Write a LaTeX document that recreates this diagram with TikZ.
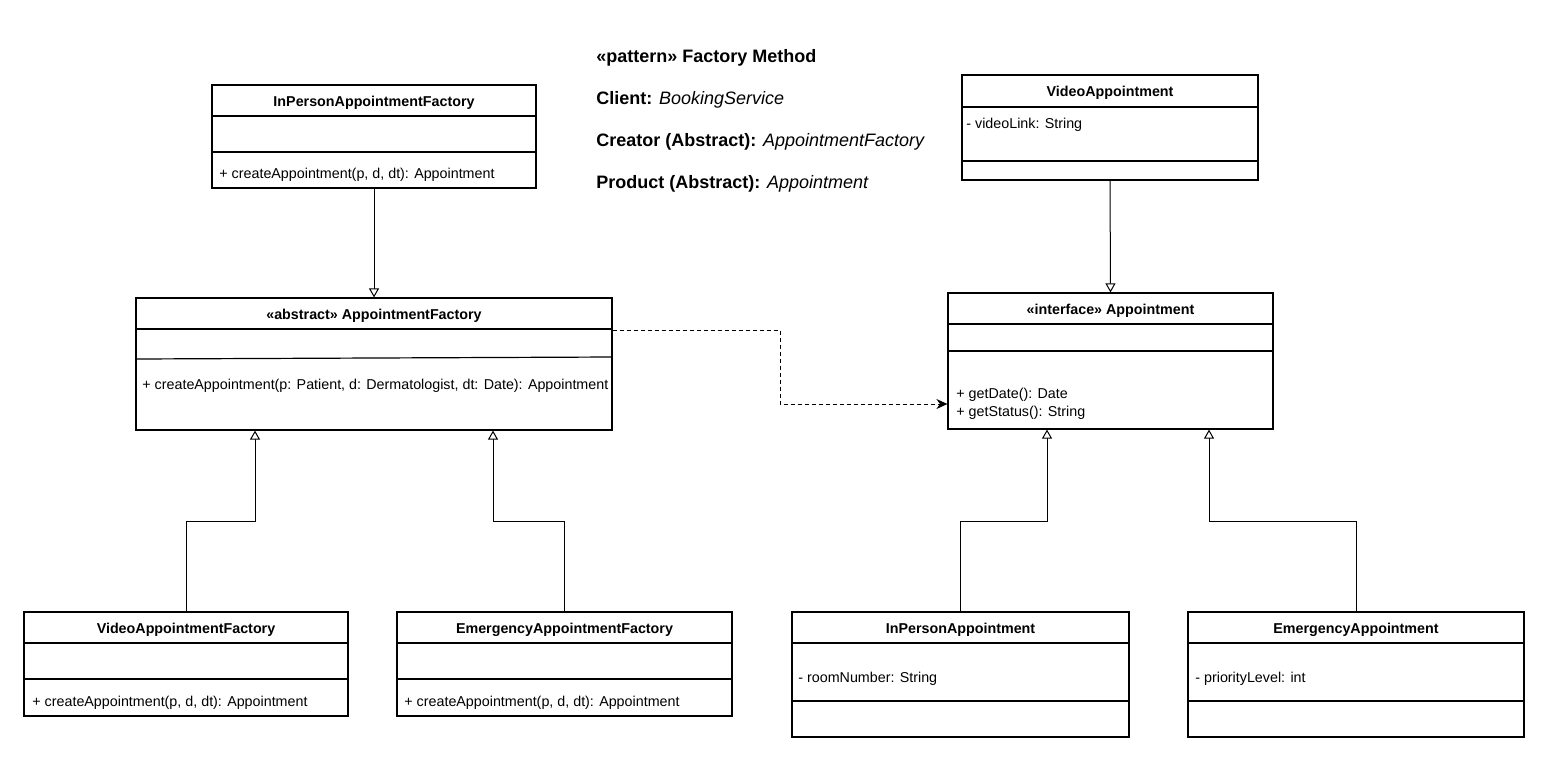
\documentclass[tikz,border=0pt]{standalone}
\usepackage{fontspec}
\setmainfont{Liberation Sans}
\usetikzlibrary{arrows.meta,fit}
\begin{document}
\begin{tikzpicture}[x=0.5pt,y=-0.5pt,
  box/.style={draw=black,line width=0.6pt,inner sep=0pt,fill=white},
  sepline/.style={draw=black,line width=0.6pt},
  hdr/.style={font=\fontsize{7.15}{8.6}\selectfont\bfseries,inner sep=0pt,yshift=-1pt},
  txt/.style={font=\fontsize{7.15}{8.6}\selectfont,inner sep=0pt,anchor=west,xshift=1.5pt,yshift=-1pt},
  title/.style={font=\fontsize{9}{10.8}\selectfont,inner sep=0pt,anchor=west,yshift=-1pt},
  gen/.style={draw=black,line width=0.5pt,-{Triangle[open,length=4.5pt,width=5pt,fill=white]}},
  dep/.style={draw=black,line width=0.5pt,dash pattern=on 2pt off 1.5pt,-{Stealth[length=5.5pt,width=5pt]}}]
\useasboundingbox[fill=white] (0,0) rectangle (1550,766);

% title text
\node[title] (t1) at (596,56) {\bfseries «pattern» Factory Method};
\node[title] (t2) at (596,98) {\bfseries Client: \mdseries\itshape BookingService};
\node[title] (t3) at (596,140) {\bfseries Creator (Abstract): \mdseries\itshape AppointmentFactory};
\node[title] (t4) at (596,182) {\bfseries Product (Abstract): \mdseries\itshape Appointment};

% InPersonAppointmentFactory
\node[box,fit={(212,85) (536,188)}] (ipf) {};
\draw[sepline] (212,116) -- (536,116);
\draw[sepline] (212,152) -- (536,152);
\node[hdr] (ipfh) at (374,100.5) {InPersonAppointmentFactory};
\node[txt] (ipfm) at (216,173) {+ createAppointment(p, d, dt): Appointment};

% AppointmentFactory
\node[box,fit={(136,298) (612,430)}] (af) {};
\draw[sepline] (136,329) -- (612,329);
\draw[sepline] (136,359) -- (612,357);
\node[hdr] (afh) at (374,314) {«abstract» AppointmentFactory};
\node[txt] (afm) at (139,384) {+ createAppointment(p: Patient, d: Dermatologist, dt: Date): Appointment};

% VideoAppointmentFactory
\node[box,fit={(24,612) (348,716)}] (vaf) {};
\draw[sepline] (24,643) -- (348,643);
\draw[sepline] (24,679) -- (348,679);
\node[hdr] (vafh) at (186,628) {VideoAppointmentFactory};
\node[txt] (vafm) at (29,701) {+ createAppointment(p, d, dt): Appointment};

% EmergencyAppointmentFactory
\node[box,fit={(397,612) (732,716)}] (eaf) {};
\draw[sepline] (397,643) -- (732,643);
\draw[sepline] (397,679) -- (732,679);
\node[hdr] (eafh) at (564.5,628) {EmergencyAppointmentFactory};
\node[txt] (eafm) at (401,701) {+ createAppointment(p, d, dt): Appointment};

% VideoAppointment
\node[box,fit={(962,75) (1258,180)}] (va) {};
\draw[sepline] (962,107) -- (1258,107);
\draw[sepline] (962,161) -- (1258,161);
\node[hdr] (vah) at (1110,91) {VideoAppointment};
\node[txt] (vaa) at (963,123) {- videoLink: String};

% Appointment interface
\node[box,fit={(948,293) (1273,429)}] (ia) {};
\draw[sepline] (948,324) -- (1273,324);
\draw[sepline] (948,351) -- (1273,351);
\node[hdr] (iah) at (1110.5,309) {«interface» Appointment};
\node[txt] (iam1) at (953,393) {+ getDate(): Date};
\node[txt] (iam2) at (953,410.5) {+ getStatus(): String};

% InPersonAppointment
\node[box,fit={(792,612) (1129,737)}] (ipa) {};
\draw[sepline] (792,643) -- (1129,643);
\draw[sepline] (792,701) -- (1129,701);
\node[hdr] (ipah) at (960.5,628) {InPersonAppointment};
\node[txt] (ipaa) at (795,677) {- roomNumber: String};

% EmergencyAppointment
\node[box,fit={(1188,612) (1524,737)}] (ea) {};
\draw[sepline] (1188,643) -- (1524,643);
\draw[sepline] (1188,701) -- (1524,701);
\node[hdr] (eah) at (1356,628) {EmergencyAppointment};
\node[txt] (eaa) at (1192,677) {- priorityLevel: int};

% bend points
\coordinate (j1) at (255,521);
\coordinate (j2) at (493,521);
\coordinate (j3) at (1047,521);
\coordinate (j4) at (1209,521);
\coordinate (d1) at (780,330);
\coordinate (d2) at (780,404);

% connectors
\draw[gen] (ipf.south) -- (af.north);
\draw[gen] (vaf.north) |- (j1) -- (j1 |- af.south);
\draw[gen] (eaf.north) |- (j2) -- (j2 |- af.south);
\draw[gen] (va.south) -- (ia.north);
\draw[gen] (ipa.north) |- (j3) -- (j3 |- ia.south);
\draw[gen] (ea.north) |- (j4) -- (j4 |- ia.south);
\draw[dep] (d1 -| af.east) -- (d1) -- (d2) -- (d2 -| ia.west);
\end{tikzpicture}
\end{document}
